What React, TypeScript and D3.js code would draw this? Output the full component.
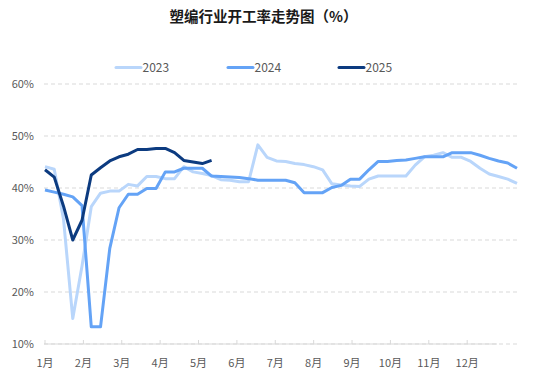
import React from "react";
import * as d3 from "d3";

const title = "塑编行业开工率走势图（%）";
const seriesNames = ["2023", "2024", "2025"];
const seriesColors = ["#b9d6fb", "#64a3f6", "#0c3b80"];
const monthLabels = ["1月", "2月", "3月", "4月", "5月", "6月", "7月", "8月", "9月", "10月", "11月", "12月"];
const yTicks = [10, 20, 30, 40, 50, 60];
const weeksPerMonthTick = 4.147;

const values2023 = [
  44.1, 43.6, 34.0, 14.9, 25.0, 36.4, 39.0, 39.4, 39.4, 40.7,
  40.4, 42.2, 42.2, 41.8, 41.8, 44.1, 43.1, 42.8, 42.4, 41.6,
  41.5, 41.2, 41.2, 48.3, 45.9, 45.2, 45.1, 44.7, 44.5, 44.1,
  43.5, 40.8, 40.6, 40.4, 40.3, 41.7, 42.3, 42.3, 42.3, 42.3,
  44.4, 46.0, 46.3, 46.8, 45.9, 45.9, 45.1, 43.8, 42.7, 42.2,
  41.7, 40.9,
];
const values2024 = [
  39.6, 39.2, 38.8, 38.3, 36.6, 13.3, 13.3, 28.4, 36.2, 38.8,
  38.8, 39.9, 39.9, 43.1, 43.1, 43.8, 43.8, 43.8, 42.3, 42.2,
  42.1, 42.0, 41.8, 41.5, 41.5, 41.5, 41.5, 41.0, 39.1, 39.1,
  39.1, 40.1, 40.5, 41.7, 41.7, 43.5, 45.1, 45.1, 45.3, 45.4,
  45.7, 46.0, 46.0, 46.0, 46.8, 46.8, 46.8, 46.3, 45.7, 45.2,
  44.8, 43.8,
];
const values2025 = [
  43.5, 42.1, 36.5, 30.0, 33.8, 42.5, 43.9, 45.2, 46.0, 46.5,
  47.4, 47.4, 47.6, 47.6, 46.8, 45.3, 45.0, 44.7, 45.3,
];

const W = 545;
const H = 379;
const FONT = "'Noto Sans CJK SC', 'Noto Sans', sans-serif";

export default function App() {
  const x = d3.scaleLinear().domain([0, 51]).range([45, 517]);
  const y = d3.scaleLinear().domain([10, 60]).range([344, 84]);
  const line = d3
    .line<number>()
    .x((_, i) => x(i))
    .y((d) => y(d));
  const allSeries = [values2023, values2024, values2025];
  const legendX = [116, 228, 339];

  return (
    <svg
      width={W}
      height={H}
      style={{ position: "absolute", left: 0, top: 0, background: "#fff" }}
      fontFamily={FONT}
    >
      <text x={263.5} y={22} textAnchor="middle" fontSize={14.5} fontWeight="bold" fill="#1a1a1a">
        {title}
      </text>

      {seriesNames.map((name, i) => (
        <g key={name}>
          <line x1={legendX[i]} x2={legendX[i] + 25} y1={67.5} y2={67.5} stroke={seriesColors[i]} strokeWidth={3} strokeLinecap="round" />
          <text x={legendX[i] + 26.5} y={71.5} fontSize={12} fill="#595959">
            {name}
          </text>
        </g>
      ))}

      {yTicks.map((t) => (
        <g key={t}>
          <line x1={44} x2={517} y1={y(t)} y2={y(t)} stroke="#d9d9d9" strokeDasharray="4,3" strokeWidth={1} />
          <text x={34} y={y(t) + 4} textAnchor="end" fontSize={11} fill="#595959">
            {t}%
          </text>
        </g>
      ))}

      <line x1={44} x2={497} y1={y(10)} y2={y(10)} stroke="#d9d9d9" strokeWidth={1} />
      {monthLabels.map((m, i) => {
        const xx = x(i * weeksPerMonthTick);
        return (
          <g key={m}>
            <line x1={xx} x2={xx} y1={y(10)} y2={y(10) - 4} stroke="#d9d9d9" strokeWidth={1} />
            <text x={xx} y={367} textAnchor="middle" fontSize={11} fill="#595959">
              {m}
            </text>
          </g>
        );
      })}

      {allSeries.map((vals, i) => (
        <path
          key={seriesNames[i]}
          d={line(vals) || ""}
          fill="none"
          stroke={seriesColors[i]}
          strokeWidth={3}
          strokeLinejoin="round"
          strokeLinecap="butt"
        />
      ))}
    </svg>
  );
}
